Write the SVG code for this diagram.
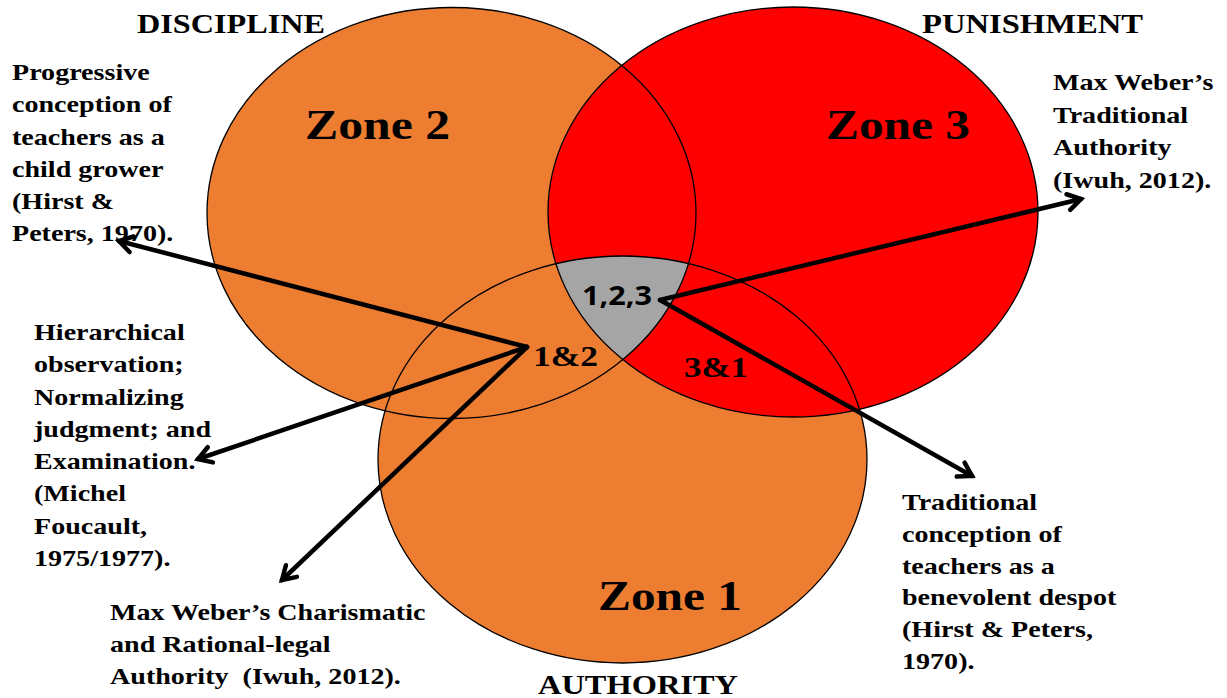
<svg xmlns="http://www.w3.org/2000/svg" width="1227" height="698" viewBox="0 0 1227 698">
<style>
.t{font-family:"Liberation Serif","Times New Roman",serif;font-weight:bold;fill:#000;}
.lbl{font-size:24px;}
.hdr{font-size:27px;}
.zone{font-size:42px;}
.num{font-size:30px;}
.outline{fill:none;stroke:#000;stroke-width:1.3;}
.arrow{stroke:#000;stroke-width:4.5;fill:none;stroke-linecap:round;marker-end:url(#head);}
</style>
<defs>
<marker id="head" markerUnits="userSpaceOnUse" markerWidth="24" markerHeight="24" viewBox="0 0 24 24" refX="19" refY="12" orient="auto" overflow="visible">
<path d="M6,4 L19,12 L6,20" fill="none" stroke="#000" stroke-width="4.5" stroke-linecap="round" stroke-linejoin="miter"/>
</marker>
<clipPath id="clipD"><ellipse cx="451.5" cy="213" rx="244.5" ry="205.5"/></clipPath>
<clipPath id="clipP"><ellipse cx="793" cy="212" rx="245" ry="205"/></clipPath>
</defs>

<g id="fills">
<ellipse cx="451.5" cy="213" rx="244.5" ry="205.5" fill="#ED7D31"/>
<ellipse cx="622.5" cy="459.5" rx="244.5" ry="203.5" fill="#ED7D31"/>
<ellipse cx="793" cy="212" rx="245" ry="205" fill="#FF0000"/>
<g clip-path="url(#clipD)"><g clip-path="url(#clipP)">
<ellipse cx="622.5" cy="459.5" rx="244.5" ry="203.5" fill="#A5A5A5"/>
</g></g>
</g>

<g id="discipline">
<ellipse class="outline" cx="451.5" cy="213" rx="244.5" ry="205.5"/>
<text class="t hdr" x="137" y="33" textLength="188" lengthAdjust="spacingAndGlyphs">DISCIPLINE</text>
<text class="t zone" x="305" y="139" textLength="145" lengthAdjust="spacingAndGlyphs">Zone 2</text>
</g>
<g id="punishment">
<ellipse class="outline" cx="793" cy="212" rx="245" ry="205"/>
<text class="t hdr" x="922" y="33" textLength="221" lengthAdjust="spacingAndGlyphs">PUNISHMENT</text>
<text class="t zone" x="826" y="139" textLength="144" lengthAdjust="spacingAndGlyphs">Zone 3</text>
</g>
<g id="authority">
<ellipse class="outline" cx="622.5" cy="459.5" rx="244.5" ry="203.5"/>
<text class="t hdr" x="538" y="694" textLength="200" lengthAdjust="spacingAndGlyphs">AUTHORITY</text>
<text class="t zone" x="598" y="610" textLength="144" lengthAdjust="spacingAndGlyphs">Zone 1</text>
</g>
<g id="overlap-12">
<text class="t num" x="533" y="366" textLength="65" lengthAdjust="spacingAndGlyphs">1&amp;2</text>
</g>
<g id="overlap-31">
<text class="t num" x="684" y="377" textLength="64" lengthAdjust="spacingAndGlyphs">3&amp;1</text>
</g>
<g id="overlap-123">
<text x="582" y="305" font-family="'Open Sans','Liberation Sans',sans-serif" font-weight="bold" font-size="27" textLength="70" lengthAdjust="spacingAndGlyphs">1,2,3</text>
</g>

<g id="connectors">
<line class="arrow" x1="527" y1="347" x2="119" y2="241"/>
<line class="arrow" x1="527" y1="347" x2="198" y2="459"/>
<line class="arrow" x1="527" y1="347" x2="282" y2="580"/>
<line class="arrow" x1="660" y1="300" x2="1081" y2="199"/>
<line class="arrow" x1="660" y1="300" x2="972" y2="476"/>
</g>

<g id="note-progressive">
<text class="t lbl" transform="translate(12,0) scale(1.17,1)">
<tspan x="0" y="80">Progressive</tspan>
<tspan x="0" y="112">conception of</tspan>
<tspan x="0" y="145">teachers as a</tspan>
<tspan x="0" y="177">child grower</tspan>
<tspan x="0" y="209">(Hirst &amp;</tspan>
<tspan x="0" y="241">Peters, 1970).</tspan>
</text>
</g>
<g id="note-foucault">
<text class="t lbl" transform="translate(34,0) scale(1.17,1)">
<tspan x="0" y="340">Hierarchical</tspan>
<tspan x="0" y="372">observation;</tspan>
<tspan x="0" y="405">Normalizing</tspan>
<tspan x="0" y="437">judgment; and</tspan>
<tspan x="0" y="469">Examination.</tspan>
<tspan x="0" y="501">(Michel</tspan>
<tspan x="0" y="534">Foucault,</tspan>
<tspan x="0" y="566">1975/1977).</tspan>
</text>
</g>
<g id="note-weber-traditional">
<text class="t lbl" transform="translate(1053,0) scale(1.17,1)">
<tspan x="0" y="90">Max Weber’s</tspan>
<tspan x="0" y="123">Traditional</tspan>
<tspan x="0" y="155">Authority</tspan>
<tspan x="0" y="188">(Iwuh, 2012).</tspan>
</text>
</g>
<g id="note-traditional">
<text class="t lbl" transform="translate(902,0) scale(1.17,1)">
<tspan x="0" y="510">Traditional</tspan>
<tspan x="0" y="542">conception of</tspan>
<tspan x="0" y="574">teachers as a</tspan>
<tspan x="0" y="605">benevolent despot</tspan>
<tspan x="0" y="637">(Hirst &amp; Peters,</tspan>
<tspan x="0" y="669">1970).</tspan>
</text>
</g>
<g id="note-weber-charismatic">
<text class="t lbl" transform="translate(110,0) scale(1.17,1)" xml:space="preserve"><tspan x="0" y="620">Max Weber’s Charismatic</tspan><tspan x="0" y="652">and Rational-legal</tspan><tspan x="0" y="684">Authority  (Iwuh, 2012).</tspan></text>
</g>
</svg>
